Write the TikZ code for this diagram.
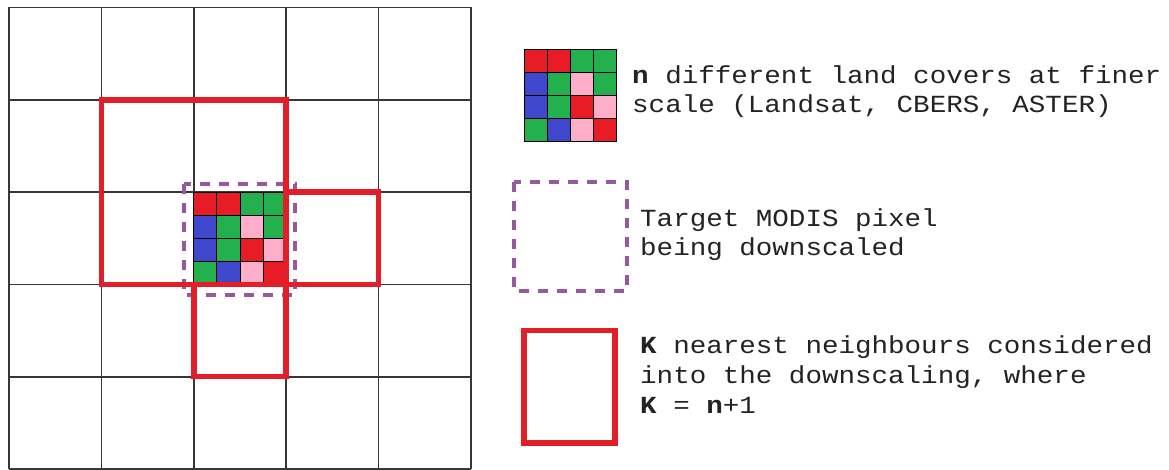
\documentclass[tikz,border=0pt]{standalone}
\usepackage{fontspec}
\newfontfamily\legfont{Liberation Mono}[FakeStretch=1.12]
\definecolor{cR}{RGB}{232,28,36}
\definecolor{cG}{RGB}{34,177,76}
\definecolor{cB}{RGB}{63,72,204}
\definecolor{cP}{RGB}{255,174,201}
\definecolor{redbox}{RGB}{226,30,40}
\definecolor{purp}{RGB}{150,88,158}
\definecolor{gridc}{RGB}{55,55,55}
\definecolor{txt}{RGB}{35,35,35}
\tikzset{
  gridline/.style={draw=gridc, line width=1.6},
  redframe/.style={draw=redbox, line width=5.5},
  purpledash/.style={draw=purp, line width=3.5, dash pattern=on 10 off 9},
  legtext/.style={anchor=base west, inner sep=0, text=txt, font=\legfont\fontsize{24.6}{29.5}\selectfont},
  landcover/.pic={
    \foreach \r/\row in {0/{cR,cR,cG,cG},1/{cB,cG,cP,cG},2/{cB,cG,cR,cP},3/{cG,cB,cP,cR}}{
      \foreach \c [count=\j from 0] in \row {
        \filldraw[fill=\c, draw=black, line width=0.9] (\j*23.1, \r*23.1) rectangle ++(23.1,23.1);
      }
    }
  }
}
\begin{document}
\begin{tikzpicture}[x=1pt,y=-1pt]
\useasboundingbox (0,0) rectangle (1169,470);
\fill[white] (0,0) rectangle (1169,470);
% main 5x5 grid
\foreach \xx in {9,101.4,193.8,286.2,378.6,471}{
  \draw[gridline] (\xx,7.5) -- (\xx,469);
}
\foreach \yy in {7.5,99.8,192.1,284.4,376.7,469}{
  \draw[gridline] (9,\yy) -- (471,\yy);
}
% fine-scale land covers in the target pixel
\pic (lcmain) at (193.8,192.1) {landcover};
% target pixel
\draw[purpledash] (184,184) rectangle (295,295);
% K nearest neighbours
\draw[redframe] (101.4,99.8) rectangle (286.2,284.4);
\draw[redframe] (286.2,192.1) rectangle (378.6,284.4);
\draw[redframe] (193.8,284.4) rectangle (286.2,376.7);
% legend
\pic (lcleg) at (524,49) {landcover};
\node[legtext] (l1a) at (632,84) {\textbf{n} different land covers at finer};
\node[legtext] (l1b) at (632,112.5) {scale (Landsat, CBERS, ASTER)};
\draw[purpledash] (514,182) rectangle (627,291);
\node[legtext] (l2a) at (640,227) {Target MODIS pixel};
\node[legtext] (l2b) at (640,256) {being downscaled};
\draw[redframe] (524,330.5) rectangle (615,443);
\node[legtext] (l3a) at (640,353) {\textbf{K} nearest neighbours considered};
\node[legtext] (l3b) at (640,383) {into the downscaling, where};
\node[legtext] (l3c) at (640,413) {\textbf{K} = \textbf{n}+1};
\end{tikzpicture}
\end{document}
